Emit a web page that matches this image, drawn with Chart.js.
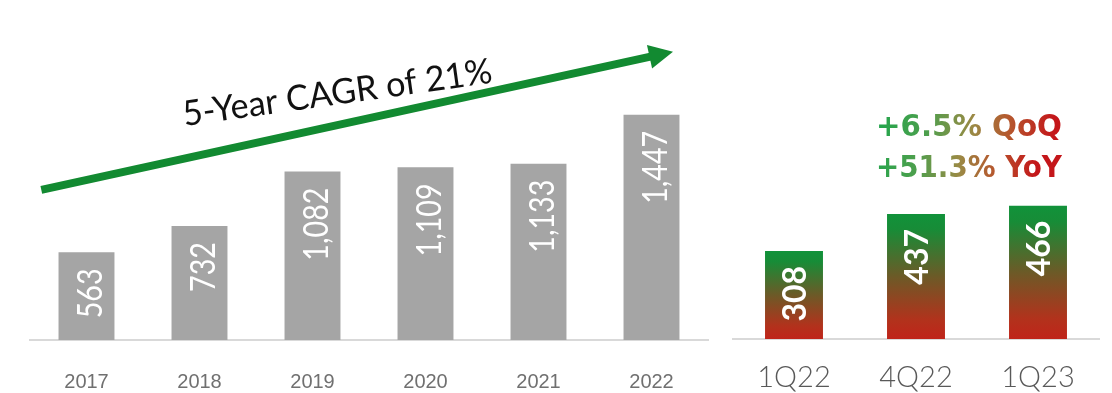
<!DOCTYPE html>
<html>
<head>
<meta charset="utf-8">
<script src="https://cdn.jsdelivr.net/npm/chart.js@4.4.1/dist/chart.umd.min.js"></script>
<style>
  html, body { margin: 0; padding: 0; background: #fff; }
  #wrap { position: relative; width: 1112px; height: 393px; overflow: hidden; }
  #yearChart { position: absolute; left: 0; top: 0; }
  #qtrChart { position: absolute; left: 720px; top: 0; }
</style>
</head>
<body>
<div id="wrap">
  <canvas id="yearChart" width="720" height="393"></canvas>
  <canvas id="qtrChart" width="392" height="393"></canvas>
</div>
<script>
const YEARS = ['2017', '2018', '2019', '2020', '2021', '2022'];
const YEAR_VALUES = [563, 732, 1082, 1109, 1133, 1447];
const QUARTERS = ['1Q22', '4Q22', '1Q23'];
const QTR_VALUES = [308, 437, 466];
const CAGR_TEXT = '5-Year CAGR of 21%';
const GROWTH_LINES = ['+6.5% QoQ', '+51.3% YoY'];

const GREY_BAR = '#a5a5a5';
const ARROW_GREEN = '#128a31';
const AXIS_LINE = '#d9d9d9';

// white value text, rotated to run up the bar, ending a little below its top
function barLabels(opts) {
    return {
        id: 'barLabels',
        afterDatasetsDraw(chart) {
            const ctx = chart.ctx;
            const meta = chart.getDatasetMeta(0);
            const values = chart.data.datasets[0].data;
            ctx.save();
            ctx.fillStyle = '#fff';
            ctx.font = opts.font;
            ctx.textAlign = 'right';
            ctx.textBaseline = 'alphabetic';
            meta.data.forEach((bar, i) => {
                ctx.save();
                ctx.translate(bar.x + opts.shift, bar.y + opts.gap);
                ctx.rotate(-Math.PI / 2);
                ctx.scale(opts.squeeze, 1);
                ctx.fillText(values[i].toLocaleString('en-US'), 0, opts.cap / 2);
                ctx.restore();
            });
            ctx.restore();
        }
    };
}

// growth arrow over the yearly bars (anchors in category index / value units)
const cagrArrow = {
    id: 'cagrArrow',
    afterDraw(chart) {
        const { ctx, scales: { x, y } } = chart;
        const px = p => [x.getPixelForValue(p[0]), y.getPixelForValue(p[1])];
        const [x0, y0] = px([-0.4, 965]);
        const [x1, y1] = px([5.19, 1852]);
        const ang = Math.atan2(y1 - y0, x1 - x0);
        const headLen = 24, headHalf = 12;
        const bx = x1 - headLen * Math.cos(ang), by = y1 - headLen * Math.sin(ang);

        ctx.save();
        ctx.strokeStyle = ARROW_GREEN;
        ctx.fillStyle = ARROW_GREEN;
        ctx.lineWidth = 8;
        ctx.lineCap = 'butt';
        ctx.beginPath();
        ctx.moveTo(x0, y0);
        ctx.lineTo(bx + Math.cos(ang), by + Math.sin(ang));
        ctx.stroke();
        ctx.beginPath();
        ctx.moveTo(x1, y1);
        ctx.lineTo(bx + headHalf * Math.sin(ang), by - headHalf * Math.cos(ang));
        ctx.lineTo(bx - headHalf * Math.sin(ang), by + headHalf * Math.cos(ang));
        ctx.closePath();
        ctx.fill();

        const [tx, ty] = px([0.867, 1375]);
        ctx.translate(tx, ty);
        ctx.rotate(-8 * Math.PI / 180);
        ctx.fillStyle = '#111';
        ctx.font = '400 35px Lato, sans-serif';
        ctx.textAlign = 'left';
        ctx.textBaseline = 'alphabetic';
        ctx.fillText(CAGR_TEXT, 0, 0, 312);
        ctx.restore();
    }
};

// green-to-red QoQ / YoY caption above the quarterly bars
const growthCaption = {
    id: 'growthCaption',
    afterDraw(chart) {
        const { ctx, scales: { x, y } } = chart;
        const cx = x.getPixelForValue(1.434);
        const half = 93;
        const grad = ctx.createLinearGradient(cx - half, 0, cx + half, 0);
        grad.addColorStop(0, '#1ea64c');
        grad.addColorStop(0.3, '#4d9f4d');
        grad.addColorStop(0.55, '#9a8a45');
        grad.addColorStop(0.75, '#b5582e');
        grad.addColorStop(1, '#c4161a');
        ctx.save();
        ctx.fillStyle = grad;
        ctx.font = 'bold 30px "DejaVu Sans", sans-serif';
        ctx.textAlign = 'center';
        ctx.textBaseline = 'alphabetic';
        ctx.fillText(GROWTH_LINES[0], cx, y.getPixelForValue(710), 2 * half);
        ctx.fillText(GROWTH_LINES[1], cx, y.getPixelForValue(566), 2 * half);
        ctx.restore();
    }
};

function qtrBarFill(context) {
    const chart = context.chart;
    if (!chart.chartArea || context.dataIndex === undefined) return ARROW_GREEN;
    const yScale = chart.scales.y;
    const top = yScale.getPixelForValue(QTR_VALUES[context.dataIndex]);
    const bottom = yScale.getPixelForValue(0);
    const g = chart.ctx.createLinearGradient(0, top, 0, bottom);
    g.addColorStop(0, '#11923a');
    g.addColorStop(0.12, '#178c37');
    g.addColorStop(0.5, '#6c5a27');
    g.addColorStop(0.85, '#b2321c');
    g.addColorStop(1, '#c0241a');
    return g;
}

function baseOptions(yMax, axisHeight, tickFont, tickColor, tickPad, padding) {
    return {
        responsive: false,
        animation: false,
        layout: { padding },
        plugins: { legend: { display: false }, tooltip: { enabled: false } },
        scales: {
            x: {
                grid: { display: false },
                border: { display: true, color: AXIS_LINE, width: 2 },
                ticks: { font: tickFont, color: tickColor, padding: tickPad, maxRotation: 0 },
                afterFit: scale => { scale.height = axisHeight; }
            },
            y: { display: false, min: 0, max: yMax }
        }
    };
}

new Chart(document.getElementById('yearChart'), {
    type: 'bar',
    data: {
        labels: YEARS,
        datasets: [{
            data: YEAR_VALUES,
            backgroundColor: GREY_BAR,
            categoryPercentage: 1,
            barPercentage: 0.495
        }]
    },
    options: baseOptions(2120, 53,
        { family: "'Liberation Sans Narrow', 'Liberation Sans', sans-serif", size: 20 },
        '#707070', 22, { left: 30, right: 12, top: 10, bottom: 0 }),
    plugins: [barLabels({ font: '400 35px Lato, sans-serif', cap: 25, gap: 16, shift: 3, squeeze: 0.82 }), cagrArrow]
});

new Chart(document.getElementById('qtrChart'), {
    type: 'bar',
    data: {
        labels: QUARTERS,
        datasets: [{
            data: QTR_VALUES,
            backgroundColor: qtrBarFill,
            categoryPercentage: 1,
            barPercentage: 0.475
        }]
    },
    options: baseOptions(1150, 54,
        { family: 'Lato, sans-serif', size: 29, weight: '300' },
        '#595959', 13, { left: 13, right: 13, top: 10, bottom: 0 }),
    plugins: [barLabels({ font: '700 32px Lato, sans-serif', cap: 23, gap: 15, shift: 0, squeeze: 1 }), growthCaption]
});
</script>
</body>
</html>
